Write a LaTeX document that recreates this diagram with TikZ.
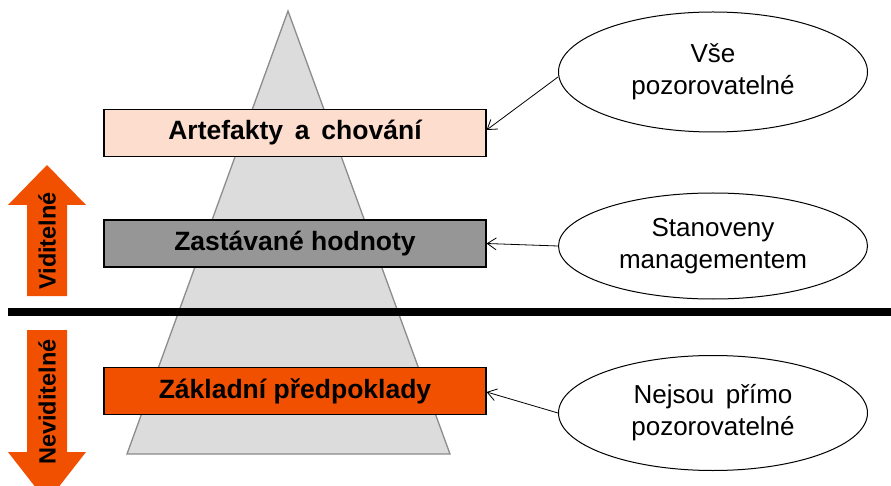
\documentclass[tikz,border=0pt]{standalone}
\usepackage{fontspec}
\setmainfont{Liberation Sans}
\usetikzlibrary{shapes.geometric,arrows.meta}
\definecolor{orng}{RGB}{240,80,0}
\definecolor{peach}{RGB}{252,221,206}
\definecolor{midgray}{RGB}{150,150,150}
\definecolor{pyrfill}{RGB}{220,220,220}
\definecolor{pyredge}{RGB}{140,140,140}
\tikzset{
  layerbox/.style={draw=black, line width=1.2pt, minimum width=382pt, minimum height=47pt, inner sep=0pt,
    font=\bfseries\fontsize{26.5}{30}\selectfont},
  bubble/.style={draw=black, line width=1pt, ellipse, minimum width=309pt, inner sep=0pt, fill=white,
    align=center, font=\fontsize{26}{32}\selectfont},
  sidelabel/.style={rotate=90, font=\bfseries\fontsize{23.5}{26}\selectfont, inner sep=0pt},
  pointer/.style={draw=black, line width=0.8pt, -{Straight Barb[length=9pt,width=12pt]}},
}
\begin{document}
\begin{tikzpicture}[x=1pt,y=-1pt]
\useasboundingbox (0,0) rectangle (891,486);
% pyramid
\draw[fill=pyrfill, draw=pyredge, line width=1.3pt] (288,11) -- (450,454) -- (127,454) -- cycle;
% layer boxes
\node[layerbox, fill=peach] (art) at (295,133) {Artefakty\, a\, chování};
\node[layerbox, fill=midgray] (val) at (295,243.5) {Zastávané hodnoty};
\node[layerbox, fill=orng] (bas) at (295,391) {Základní předpoklady};
% divider
\draw[line width=8pt] (8,312) -- (891,312);
% side arrows
\fill[orng] (47,165) -- (86,205) -- (67,205) -- (67,296) -- (27,296) -- (27,205) -- (8,205) -- cycle;
\fill[orng] (27,330) -- (67,330) -- (67,452) -- (86,452) -- (47,502) -- (8,452) -- (27,452) -- cycle;
\node[sidelabel] (vid) at (47,241) {Viditelné};
\node[sidelabel] (nevid) at (47,402) {Neviditelné};
% ellipses
\node[bubble, minimum height=120pt] (e1) at (713,72) {Vše\\pozorovatelné};
\node[bubble, minimum height=106pt] (e2) at (713,246) {Stanoveny\\managementem};
\node[bubble, minimum height=115pt] (e3) at (713,413) {Nejsou\, přímo\\pozorovatelné};
% connectors
\draw[pointer] (e1.west) ++(0,5) -- (art.east |- 0,130);
\draw[pointer] (e2.west) -- (val.east);
\draw[pointer] (e3.west) -- (bas.east |- 0,392);
\end{tikzpicture}
\end{document}
